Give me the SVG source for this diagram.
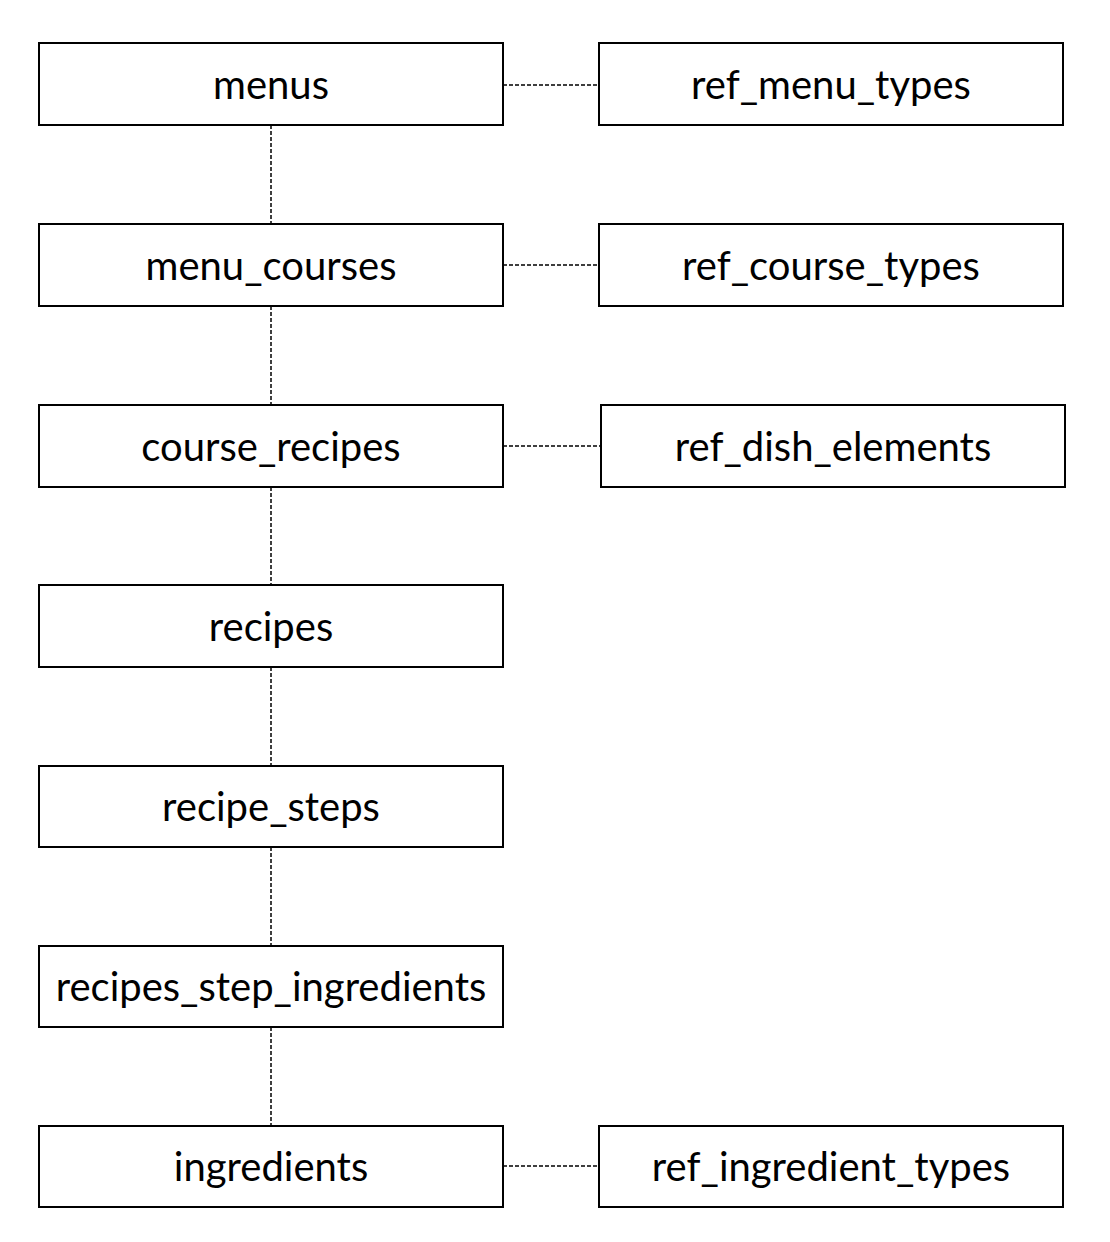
<svg xmlns="http://www.w3.org/2000/svg" width="1110" height="1242" viewBox="0 0 1110 1242">
<style>
.box{fill:#fff;stroke:#000;stroke-width:2}
.lbl{font-family:Lato,"Open Sans",sans-serif;font-size:40px;fill:#000;text-anchor:middle}
.con line{stroke:#000;stroke-width:1.5;stroke-dasharray:4 2}
</style>
<rect width="1110" height="1242" fill="#fff"/>
<g id="connectors" class="con">
<line x1="271" y1="125" x2="271" y2="224"/>
<line x1="271" y1="306" x2="271" y2="405"/>
<line x1="271" y1="487" x2="271" y2="585"/>
<line x1="271" y1="667" x2="271" y2="766"/>
<line x1="271" y1="847" x2="271" y2="946"/>
<line x1="271" y1="1027" x2="271" y2="1126"/>
<line x1="503" y1="85" x2="599" y2="85"/>
<line x1="503" y1="265" x2="599" y2="265"/>
<line x1="503" y1="446" x2="601" y2="446"/>
<line x1="503" y1="1166" x2="599" y2="1166"/>
</g>
<g id="menus"><rect class="box" x="39" y="43" width="464" height="82"/><text class="lbl" x="271" y="99">menus</text></g>
<g id="menu_courses"><rect class="box" x="39" y="224" width="464" height="82"/><text class="lbl" x="271" y="280">menu_courses</text></g>
<g id="course_recipes"><rect class="box" x="39" y="405" width="464" height="82"/><text class="lbl" x="271" y="461">course_recipes</text></g>
<g id="recipes"><rect class="box" x="39" y="585" width="464" height="82"/><text class="lbl" x="271" y="641">recipes</text></g>
<g id="recipe_steps"><rect class="box" x="39" y="766" width="464" height="81"/><text class="lbl" x="271" y="821">recipe_steps</text></g>
<g id="recipes_step_ingredients"><rect class="box" x="39" y="946" width="464" height="81"/><text class="lbl" x="271" y="1001">recipes_step_ingredients</text></g>
<g id="ingredients"><rect class="box" x="39" y="1126" width="464" height="81"/><text class="lbl" x="271" y="1181">ingredients</text></g>
<g id="ref_menu_types"><rect class="box" x="599" y="43" width="464" height="82"/><text class="lbl" x="831" y="99">ref_menu_types</text></g>
<g id="ref_course_types"><rect class="box" x="599" y="224" width="464" height="82"/><text class="lbl" x="831" y="280">ref_course_types</text></g>
<g id="ref_dish_elements"><rect class="box" x="601" y="405" width="464" height="82"/><text class="lbl" x="833" y="461">ref_dish_elements</text></g>
<g id="ref_ingredient_types"><rect class="box" x="599" y="1126" width="464" height="81"/><text class="lbl" x="831" y="1181">ref_ingredient_types</text></g>
</svg>
